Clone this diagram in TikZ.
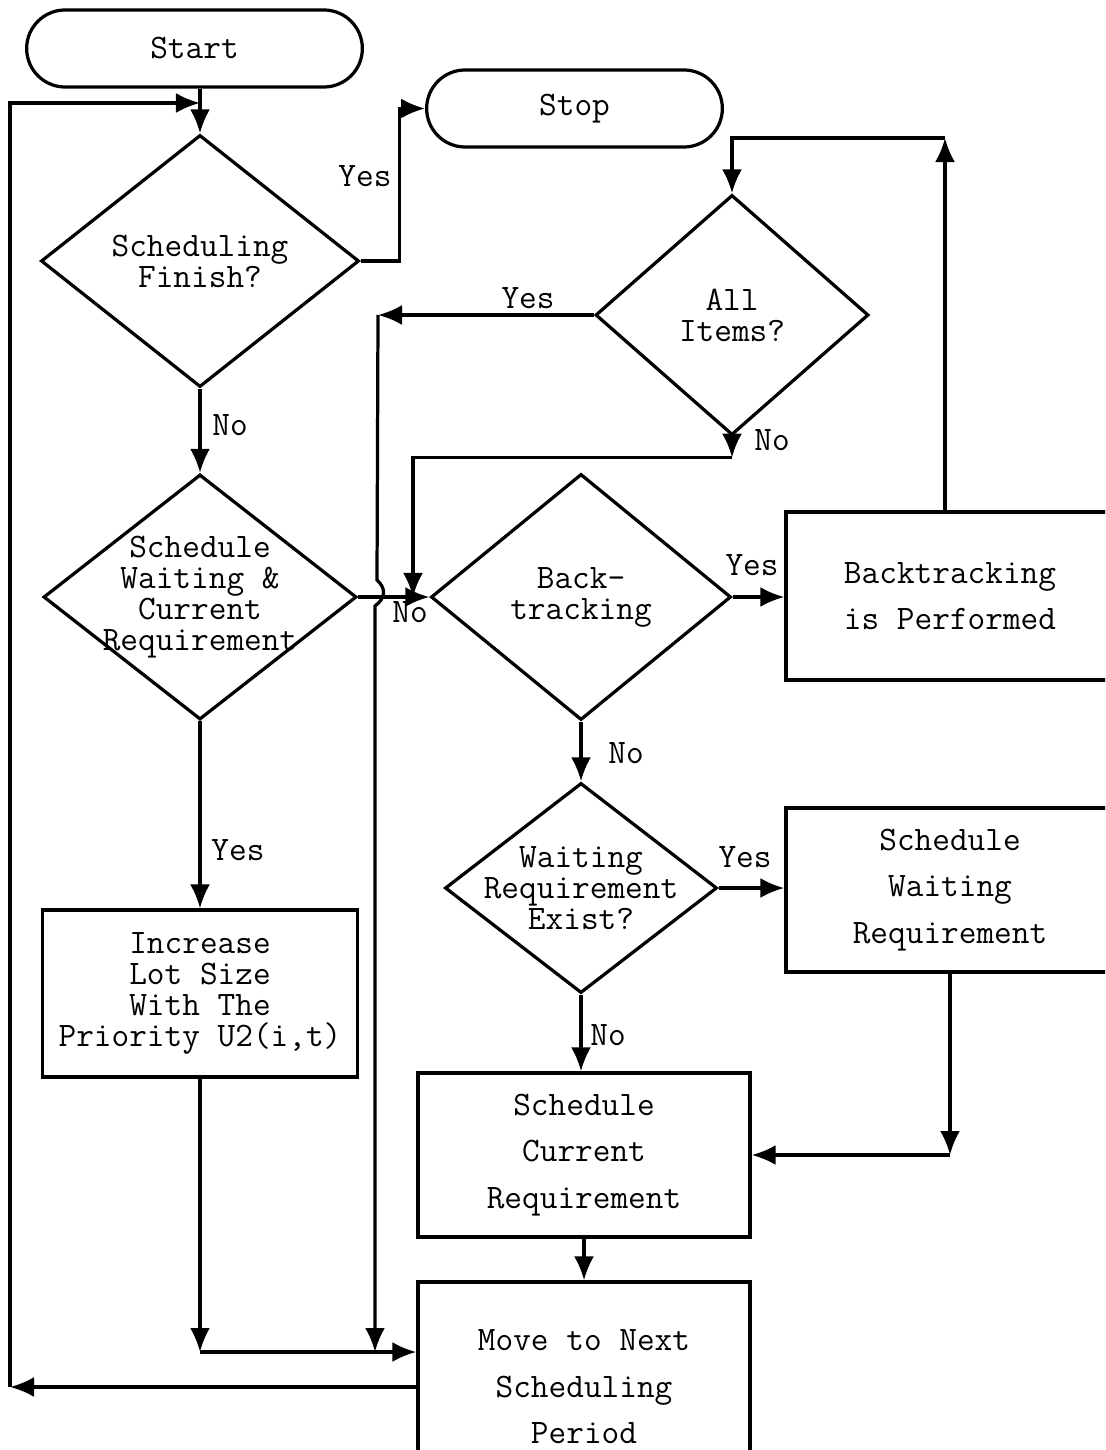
\documentclass[tikz,border=0pt]{standalone}
\usepackage{fontspec}
\usepackage{tikz}
\usetikzlibrary{shapes.geometric, shapes.misc, arrows.meta, calc}

\begin{document}
\begin{tikzpicture}[x = 0.025cm, y = -0.025cm,
    every node/.style = {font = \ttfamily\fontsize{24.4}{22}\selectfont, align = center},
    flow/.style = {line width = 2.3pt, -{Latex[length = 0.6cm, width = 0.5cm]}},
    terminal/.style = {draw, line width = 2.3pt, rounded rectangle, minimum height = 1.925cm},
    decision/.style = {draw, line width = 2.3pt, diamond, aspect = 1.3, inner xsep = -0.8cm, inner ysep = 0pt},
    block/.style = {draw, line width = 2.3pt, rectangle, inner sep = 0pt},
    wide/.style = {font = \ttfamily\fontsize{24.4}{33}\selectfont}]
    % Parametri
    \pgfmathsetmacro{\xloop}{10}
    \pgfmathsetmacro{\yloop}{103}
    \pgfmathsetmacro{\yjoin}{1352}
    \useasboundingbox (0,0) rectangle (1105,1450);
    \clip (0,0) rectangle (1105,1450);
    % Inizio e fine
    \node[terminal, minimum width = 8.625cm] (start) at (194.5,48.5) {Start};
    \node[terminal, minimum width = 7.625cm] (stop) at (574.5,108.5) {Stop};
    % Decisioni
    \node[decision, minimum width = 7.95cm, minimum height = 6.3cm] (finish) at (200,261) {Scheduling\\Finish?};
    \node[decision, minimum width = 7.825cm, minimum height = 6.125cm] (waiting) at (200,597) {Schedule\\Waiting \&\\Current\\Requirement};
    \node[decision, minimum width = 6.825cm, minimum height = 6cm] (items) at (732,315) {All\\Items?};
    \node[decision, minimum width = 7.5cm, minimum height = 6.15cm] (backtrack) at (581,597) {Back-\\tracking};
    \node[decision, minimum width = 6.8cm, minimum height = 5.25cm] (wexist) at (581,888) {Waiting\\Requirement\\Exist?};
    % Blocchi
    \node[block, minimum width = 7.875cm, minimum height = 4.175cm] (increase) at (200,993.5) {Increase\\Lot Size\\With The\\Priority U2(i,t)};
    \node[block, wide, minimum width = 8.2cm, minimum height = 4.2cm] (btdone) at (950,596) {Backtracking\\is Performed};
    \node[block, wide, minimum width = 8.2cm, minimum height = 4.1cm] (swait) at (950,890) {Schedule\\Waiting\\Requirement};
    \node[block, wide, minimum width = 8.3cm, minimum height = 4.1cm] (scur) at (584,1155) {Schedule\\Current\\Requirement};
    \node[block, wide, minimum width = 8.3cm, minimum height = 5.25cm] (move) at (584,1387) {Move to Next\\Scheduling\\Period};
    % Etichette
    \node (yesStop) at (365,176) {Yes};
    \node (noFinish) at (230,425) {No};
    \node (yesWait) at (238,850) {Yes};
    \node (noWait) at (410,612) {No};
    \node (yesItems) at (528,298) {Yes};
    \node (noItems) at (772,440) {No};
    \node (yesBack) at (752,565) {Yes};
    \node (noBack) at (626,753) {No};
    \node (yesExist) at (745,857) {Yes};
    \node (noExist) at (608,1035) {No};
    % Coordinate
    \coordinate (loopA) at (\xloop,1387);
    \coordinate (loopB) at (\xloop,\yloop);
    \coordinate (joinA) at (200,\yjoin);
    \coordinate (yesA) at (378,315);
    \coordinate (yesB) at (375,\yjoin);
    \coordinate (noB) at (413,597);
    \coordinate (upA) at (945,138);
    \coordinate (sideA) at (950,1155);
    % Ciclo principale
    \draw[flow] (finish.north |- start.south) -- (finish.north);
    \draw[flow] (move.west) -- (loopA);
    \draw[flow] (loopA) -- (loopB) -- (loopB -| finish.north);
    \draw[flow] (finish.east) -- ++(39,0) |- (stop.west);
    \draw[flow] (finish.south) -- (waiting.north);
    \draw[flow] (waiting.south) -- (increase.north);
    \draw[flow] (increase.south) -- (joinA);
    \draw[flow] (joinA) -- (joinA -| move.west);
    % Ramo degli articoli
    \draw[flow] (items.west) -- (yesA);
    \draw[flow] (yesA) -- (377,580) .. controls (386,588) and (386,598) .. (375,606) -- (yesB);
    \draw[flow] (items.south) -- ++(0,21) coordinate (noA);
    \draw[flow] (noA) -| (noB);
    \draw[flow] (waiting.east) -- (backtrack.west);
    \draw[flow] (backtrack.east) -- (backtrack.east -| btdone.west);
    \draw[flow] (btdone.north -| upA) -- (upA);
    \draw[flow] (upA) -- (upA -| items.north) -- (items.north);
    % Ramo di attesa
    \draw[flow] (backtrack.south) -- (wexist.north);
    \draw[flow] (wexist.east) -- (wexist.east -| swait.west);
    \draw[flow] (wexist.south) -- (wexist.south |- scur.north);
    \draw[flow] (swait.south) -- (sideA);
    \draw[flow] (sideA) -- (scur.east);
    \draw[flow] (scur.south) -- (move.north);
\end{tikzpicture}
\end{document}
